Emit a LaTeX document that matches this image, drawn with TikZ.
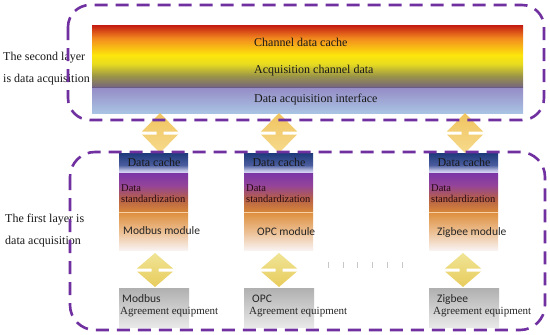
\documentclass[tikz,border=0pt]{standalone}
\usepackage{fontspec}
\setmainfont{Liberation Serif}
\newfontfamily\serfont{Liberation Serif}
\newfontfamily\calfont{Carlito}
\definecolor{dpurple}{HTML}{7030A0}
\definecolor{ga}{HTML}{C41A12}
\definecolor{gb}{HTML}{F28A1E}
\definecolor{gc}{HTML}{FDE60C}
\definecolor{gd}{HTML}{E8DC20}
\definecolor{ge}{HTML}{9A9448}
\definecolor{gf}{HTML}{75657F}
\definecolor{gg}{HTML}{958CC6}
\definecolor{gh}{HTML}{A9C3E3}
\definecolor{ma}{HTML}{1D3A7A}
\definecolor{mb}{HTML}{4A5C9E}
\definecolor{mc}{HTML}{B8BCE0}
\definecolor{md}{HTML}{D2D2EE}
\definecolor{me}{HTML}{7A36A6}
\definecolor{mf}{HTML}{93449A}
\definecolor{mg}{HTML}{B45E4A}
\definecolor{mh}{HTML}{D4843A}
\definecolor{mi}{HTML}{DE9040}
\definecolor{mj}{HTML}{ECC094}
\definecolor{mk}{HTML}{F8F2F0}
\pgfdeclareverticalshading{topgrad}{100bp}{color(0bp)=(gh); color(25bp)=(gh); color(39.4bp)=(gg); color(39.6bp)=(gf); color(46bp)=(ge); color(53bp)=(gd); color(58bp)=(gc); color(67.5bp)=(gb); color(75bp)=(ga); color(100bp)=(ga)}
\pgfdeclareverticalshading{modgrad}{100bp}{color(0bp)=(mk); color(25bp)=(mk); color(34.3bp)=(mj); color(44.1bp)=(mi); color(45.1bp)=(mh); color(51.8bp)=(mg); color(58.5bp)=(mf); color(64.9bp)=(me); color(65.2bp)=(md); color(66.2bp)=(mc); color(68.8bp)=(mb); color(75bp)=(ma); color(100bp)=(ma)}
\newcommand{\udarr}[5]{%
  \shade[top color=#4, bottom color=#5]
    (#1,#2) -- ({#1+18},{(#2+#3)/2-1.5}) -- ({#1+3.5},{(#2+#3)/2-1.5})
    -- ({#1+3.5},{(#2+#3)/2+1.5}) -- ({#1+18},{(#2+#3)/2+1.5}) -- (#1,#3)
    -- ({#1-18},{(#2+#3)/2+1.5}) -- ({#1-3.5},{(#2+#3)/2+1.5})
    -- ({#1-3.5},{(#2+#3)/2-1.5}) -- ({#1-18},{(#2+#3)/2-1.5}) -- cycle;}
\begin{document}
\begin{tikzpicture}[x=1pt,y=-1pt,
  dashbox/.style={draw=dpurple, line width=2.6pt, dash pattern=on 13pt off 8pt},
  big/.style={font=\serfont\fontsize{12}{14}\selectfont, text=black!90, inner sep=0pt},
  stdz/.style={font=\serfont\fontsize{10.5}{12}\selectfont, text={rgb,255:red,40;green,10;blue,20}, inner sep=0pt, anchor=west},
  modt/.style={font=\calfont\fontsize{11.5}{13}\selectfont, text=black!85, inner sep=0pt, anchor=west},
  eqt/.style={font=\serfont\fontsize{11}{13}\selectfont, text=black!85, inner sep=0pt, anchor=west},
  tick/.style={draw=black!22, line width=1pt}]
\useasboundingbox (0,0) rectangle (550,335);
\fill[white] (0,0) rectangle (550,335);

% left labels
\node[big, anchor=west] (l2a) at (3,58) {The second layer};
\node[big, anchor=west] (l2b) at (3,80) {is data acquisition};
\node[big, anchor=west] (l1a) at (5,220) {The first layer is};
\node[big, anchor=west] (l1b) at (5,242) {data acquisition};

% second layer block
\shade[shading=topgrad] (92,25) rectangle (523,113);
\draw[draw={rgb,255:red,106;green,90;blue,134}, line width=0.8pt] (92,87) -- (523,87);
\node[big, anchor=west] (c1) at (254,42) {Channel data cache};
\node[big, anchor=west] (c2) at (254,71) {Acquisition channel data};
\node[big, anchor=west] (c3) at (254,100) {Data acquisition interface};

% modules
\foreach \x/\n in {119/a,244/b,429/c}{
  \shade[shading=modgrad] (\x,153) rectangle ({\x+69},250);
  \draw[draw={rgb,255:red,248;green,208;blue,168}, line width=0.8pt] (\x,212) -- ({\x+69},212);
  \node[big] (dc\n) at ({\x+35},162) {Data cache};
  \node[stdz] (sa\n) at ({\x+2},188) {Data};
  \node[stdz] (sb\n) at ({\x+2},199) {standardization};
  \shade[top color={rgb,255:red,176;green,176;blue,176}, bottom color={rgb,255:red,232;green,232;blue,232}] (\x,288) rectangle ({\x+70},327);
}
\node[modt] (m1) at (123,231) {Modbus module};
\node[modt] (m2) at (257,232) {OPC module};
\node[modt] (m3) at (437,232) {Zigbee module};
\node[modt] (e1) at (122,299) {Modbus};
\node[eqt] (f1) at (120,312) {Agreement equipment};
\node[modt] (e2) at (252,299) {OPC};
\node[eqt] (f2) at (249,312) {Agreement equipment};
\node[modt] (e3) at (437,299) {Zigbee};
\node[eqt] (f3) at (433,312) {Agreement equipment};

% arrows
\udarr{160}{113}{153}{{rgb,255:red,240;green,196;blue,96}}{{rgb,255:red,246;green,218;blue,140}}
\udarr{279}{113}{153}{{rgb,255:red,240;green,196;blue,96}}{{rgb,255:red,246;green,218;blue,140}}
\udarr{465}{113}{153}{{rgb,255:red,240;green,196;blue,96}}{{rgb,255:red,246;green,218;blue,140}}
\udarr{155}{253}{287}{{rgb,255:red,240;green,228;blue,150}}{{rgb,255:red,232;green,204;blue,92}}
\udarr{279}{253}{287}{{rgb,255:red,240;green,228;blue,150}}{{rgb,255:red,232;green,204;blue,92}}
\udarr{463}{253}{287}{{rgb,255:red,240;green,228;blue,150}}{{rgb,255:red,232;green,204;blue,92}}

% ellipsis ticks
\foreach \x in {328,343,357,372,387,402}{\draw[tick] (\x,262) -- (\x,268);}

% dashed layers
\draw[dashbox, rounded corners=22pt] (68,5) rectangle (544,120);
\draw[dashbox, rounded corners=25pt] (70,152) rectangle (545,330);
\end{tikzpicture}
\end{document}
